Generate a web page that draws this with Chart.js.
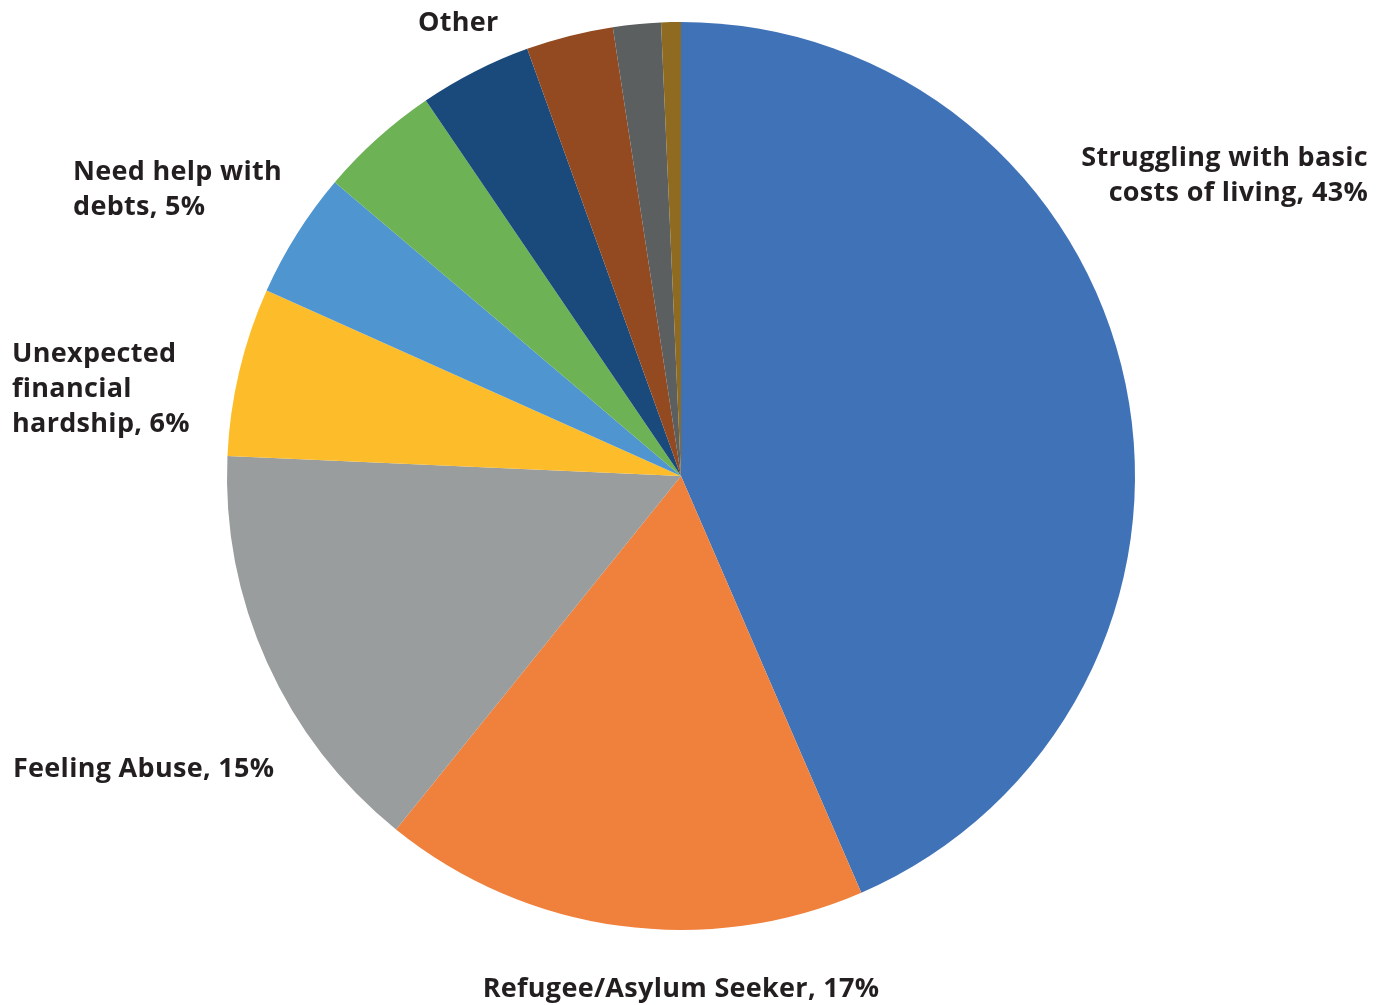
<!DOCTYPE html>
<html>
<head>
<meta charset="utf-8">
<script src="https://cdn.jsdelivr.net/npm/chart.js@4.4.1/dist/chart.umd.min.js"></script>
<style>
  html, body { margin: 0; padding: 0; background: #fff; }
  #wrap { width: 1389px; height: 1005px; }
</style>
</head>
<body>
<div id="wrap"><canvas id="pieChart" width="1389" height="1005"></canvas></div>
<script>
const categories = [
    'Struggling with basic costs of living',
    'Refugee/Asylum Seeker',
    'Feeling Abuse',
    'Unexpected financial hardship',
    'Need help with debts',
    'Other A',
    'Other B',
    'Other C',
    'Other D',
    'Other E'
];
const shares = [43.5, 17.3, 14.9, 6.0, 4.5, 4.3, 4.0, 3.1, 1.7, 0.7];
const sliceColors = [
    '#4072b8', '#f0813c', '#999d9e', '#fdbd2a', '#4f95d0',
    '#6db254', '#1a4a7c', '#944a20', '#5b5f60', '#8e6b20'
];

// label text, placed around the pie (offsets from pie centre, in px)
const labels = [
    { lines: ['Struggling with basic', 'costs of living, 43%'], dx: 687, dy: -318, align: 'right' },
    { lines: ['Refugee/Asylum Seeker, 17%'], dx: 0, dy: 513, align: 'center' },
    { lines: ['Feeling Abuse, 15%'], dx: -668, dy: 293, align: 'left' },
    { lines: ['Unexpected', 'financial', 'hardship, 6%'], dx: -669, dy: -122, align: 'left' },
    { lines: ['Need help with', 'debts, 5%'], dx: -608, dy: -304, align: 'left' },
    { lines: ['Other'], dx: -263, dy: -453, align: 'left' }
];

const labelPlugin = {
    id: 'sliceLabels',
    afterDraw(chart) {
        const arc = chart.getDatasetMeta(0).data[0];
        const cx = arc.x, cy = arc.y;
        const ctx = chart.ctx;
        ctx.save();
        ctx.font = '700 27px "Open Sans"';
        ctx.letterSpacing = '0.3px';
        ctx.fillStyle = '#231f20';
        ctx.textBaseline = 'middle';
        labels.forEach(l => {
            ctx.textAlign = l.align;
            l.lines.forEach((t, i) => {
                ctx.fillText(t, cx + l.dx, cy + l.dy + i * 35);
            });
        });
        ctx.restore();
    }
};

new Chart(document.getElementById('pieChart').getContext('2d'), {
    type: 'pie',
    data: {
        labels: categories,
        datasets: [{
            data: shares,
            backgroundColor: sliceColors,
            borderWidth: 0
        }]
    },
    options: {
        responsive: false,
        animation: false,
        layout: { padding: { top: 22, bottom: 75, left: 0, right: 27 } },
        plugins: {
            legend: { display: false },
            tooltip: { enabled: false }
        }
    },
    plugins: [labelPlugin]
});
</script>
</body>
</html>
